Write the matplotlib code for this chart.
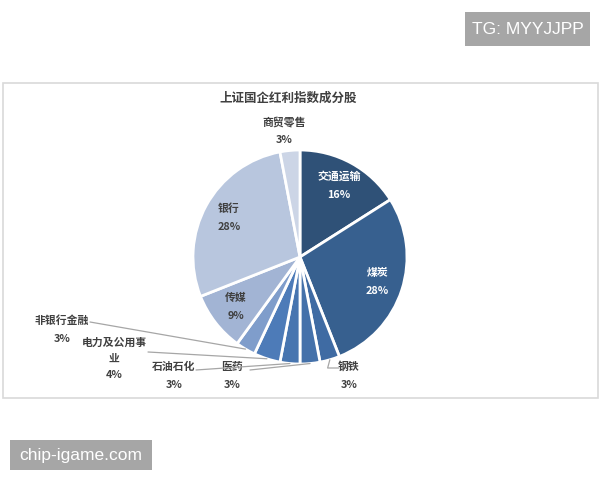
import numpy as np
import matplotlib
matplotlib.use('Agg')
import matplotlib.pyplot as plt
from matplotlib.patches import Rectangle

plt.rcParams['font.family'] = ['Noto Sans CJK SC', 'DejaVu Sans']

# Data (clockwise from 12 o'clock)
sectors = ['交通运输', '煤炭', '钢铁', '医药', '石油石化', '电力及公用事业',
           '非银行金融', '传媒', '银行', '商贸零售']
shares = [16, 28, 3, 3, 3, 4, 3, 9, 28, 3]
colors = ['#2f5177', '#37608f', '#3f6ba3', '#4471aa', '#4775b0', '#4d7bb8',
          '#7f9dcb', '#a2b4d4', '#b8c6de', '#ccd5e6']
title = '上证国企红利指数成分股'

fig = plt.figure(figsize=(6, 4.8), dpi=100)

# background layer in pixel coordinates
bg = fig.add_axes([0, 0, 1, 1])
bg.set_xlim(0, 600)
bg.set_ylim(480, 0)
bg.axis('off')
bg.add_patch(Rectangle((2.5, 82.5), 595, 315, fill=False, ec='#d9d9d9', lw=1.2))
bg.add_patch(Rectangle((465, 12), 125, 34, fc='#a6a6a6', ec='none'))
bg.text(527.5, 29.5, 'TG: MYYJJPP', color='white', fontsize=12.5, ha='center', va='center',
        family='Liberation Sans')
bg.add_patch(Rectangle((10, 440), 142, 30, fc='#a6a6a6', ec='none'))
bg.text(81, 455.5, 'chip-igame.com', color='white', fontsize=12.5, ha='center', va='center',
        family='Liberation Sans')
bg.text(288, 98, title, color='#404040', fontsize=9, fontweight='bold', ha='center', va='center')

# pie layer
cx, cy, r = 300, 257, 107
ax = fig.add_axes([(cx - r) / 600, (480 - cy - r) / 480, 2 * r / 600, 2 * r / 480])
wedges, _ = ax.pie(shares, colors=colors, startangle=90, counterclock=False,
                   wedgeprops=dict(edgecolor='white', linewidth=2))
ax.set_xlim(-1, 1)
ax.set_ylim(-1, 1)
ax.axis('off')

def mid(w):
    a = np.deg2rad((w.theta1 + w.theta2) / 2)
    return np.cos(a), np.sin(a)

# inside labels
inside = {0: 'white', 1: 'white', 7: '#404040', 8: '#404040'}
for i, c in inside.items():
    x, y = mid(wedges[i])
    ax.text(x * 0.76, y * 0.76, f'{sectors[i]}\n{shares[i]}%', color=c, fontsize=7.8,
            fontweight='bold', ha='center', va='center', linespacing=2.0)

# outside labels (pixel positions of text and line start)
lab_color = '#404040'
outside = [
    (9, (284, 131), None),
    (3, (232, 376), (250, 370)),
    (4, (174, 376), (196, 370)),
    (6, (62, 330), (90, 322)),
]
for i, tpos, lstart in outside:
    bg.text(tpos[0], tpos[1], f'{sectors[i]}\n{shares[i]}%', color=lab_color, fontsize=7.8,
            fontweight='bold', ha='center', va='center', linespacing=2.0)
    if lstart is not None:
        x, y = mid(wedges[i])
        ax.annotate('', xy=(x, y), xytext=lstart, textcoords=bg.transData,
                    arrowprops=dict(arrowstyle='-', color='#a6a6a6', lw=0.9,
                                    shrinkA=0, shrinkB=0))

# 钢铁 with an elbow leader
bg.text(349, 376, f'{sectors[2]}\n{shares[2]}%', color=lab_color, fontsize=7.8,
        fontweight='bold', ha='center', va='center', linespacing=2.0)
x, y = mid(wedges[2])
ax.annotate('', xy=(x, y), xytext=(339, 368), textcoords=bg.transData,
            arrowprops=dict(arrowstyle='-', color='#a6a6a6', lw=0.9, shrinkA=0, shrinkB=0,
                            connectionstyle='angle,angleA=0,angleB=75,rad=0'))

# 电力及公用事业 wraps onto two lines
bg.text(114, 359, '电力及公用事\n业\n4%', color=lab_color, fontsize=7.8, fontweight='bold',
        ha='center', va='center', linespacing=1.75)
x, y = mid(wedges[5])
ax.annotate('', xy=(x, y), xytext=(148, 352), textcoords=bg.transData,
            arrowprops=dict(arrowstyle='-', color='#a6a6a6', lw=0.9, shrinkA=0, shrinkB=0))

fig.savefig('out.png', dpi=100)
